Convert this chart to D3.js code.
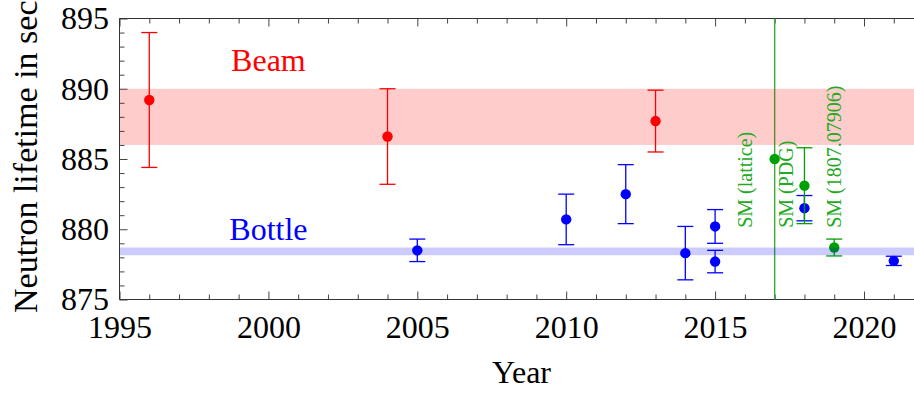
<!DOCTYPE html>
<html>
<head>
<meta charset="utf-8">
<script src="https://cdn.jsdelivr.net/npm/d3@7"></script>
<style>
  html, body { margin: 0; padding: 0; background: #fff; }
  svg { display: block; font-family: "Liberation Serif", "Times New Roman", serif; }
</style>
</head>
<body>
<svg id="chart" width="914" height="401"></svg>
<script>
// ---- data ----
const beamYears   = [1996, 2004, 2013];
const beamValues  = [889.2, 886.6, 887.7];
const beamErrors  = [4.8, 3.4, 2.2];

const bottleYears  = [2005, 2010, 2012, 2014, 2015, 2015, 2018, 2021];
const bottleValues = [878.5, 880.7, 882.5, 878.3, 880.2, 877.7, 881.5, 877.75];
const bottleErrors = [0.8, 1.8, 2.1, 1.9, 1.2, 0.8, 0.9, 0.33];

const smYears  = [2017, 2018, 2019];
const smValues = [885.0, 883.1, 878.7];
const smErrors = [0, 2.7, 0.6];
const smLabels = ["SM (lattice)", "SM (PDG)", "SM (1807.07906)"];

const beamBand   = [886, 890];
const bottleBand = [878.15, 878.7];

const yMajorTicks = [875, 880, 885, 890, 895];
const yMinorTicks = d3.range(875, 896, 1);
const xMajorTicks = [1995, 2000, 2005, 2010, 2015, 2020];
const xMinorTicks = d3.range(1995, 2023, 1);

const xTitle = "Year";
const yTitle = "Neutron lifetime in sec";
const pdgYear = 2017;

// ---- layout ----
const svg = d3.select("#chart");
const plotLeft = 119.5, plotTop = 18.5, plotBottom = 299.5;
const pxPerYear = 29.78;
const x = d3.scaleLinear().domain([1995, 2022]).range([plotLeft, plotLeft + 27 * pxPerYear]);
const y = d3.scaleLinear().domain([875, 895]).range([plotBottom, plotTop]);

const RED = "#ff0000", BLUE = "#0000ff", GREEN = "#00a000";
const FRAME = "#333";

// ---- axes / ticks ----
function styleAxis(g) {
  g.select(".domain").remove();
  g.selectAll(".tick line").attr("stroke", "#444").attr("stroke-width", 1);
  g.selectAll(".tick text").attr("fill", "#000").style("font-size", "32px")
    .style("font-family", '"Liberation Serif", serif');
}
// left minor + major
svg.append("g").attr("transform", `translate(${plotLeft},0)`)
  .call(d3.axisLeft(y).tickValues(yMinorTicks.filter(v => !yMajorTicks.includes(v))).tickSize(-5).tickFormat(""))
  .call(styleAxis);
svg.append("g").attr("transform", `translate(${plotLeft},0)`)
  .call(d3.axisLeft(y).tickValues(yMajorTicks).tickSize(-8).tickPadding(10.5).tickFormat(d3.format("d")))
  .call(styleAxis);
// bottom minor + major
svg.append("g").attr("transform", `translate(0,${plotBottom})`)
  .call(d3.axisBottom(x).tickValues(xMinorTicks.filter(v => !xMajorTicks.includes(v))).tickSize(-5).tickFormat(""))
  .call(styleAxis);
svg.append("g").attr("transform", `translate(0,${plotBottom})`)
  .call(d3.axisBottom(x).tickValues(xMajorTicks).tickSize(-8).tickPadding(15.5).tickFormat(d3.format("d")))
  .call(styleAxis);
// top minor + major
svg.append("g").attr("transform", `translate(0,${plotTop})`)
  .call(d3.axisTop(x).tickValues(xMinorTicks.filter(v => !xMajorTicks.includes(v))).tickSize(-5).tickFormat(""))
  .call(styleAxis);
svg.append("g").attr("transform", `translate(0,${plotTop})`)
  .call(d3.axisTop(x).tickValues(xMajorTicks).tickSize(-8).tickFormat(""))
  .call(styleAxis);

// frame (left, top, bottom; right side lies beyond the canvas)
const xr = x.range()[1];
svg.append("path")
  .attr("d", `M${xr},${plotTop}H${plotLeft}V${plotBottom}H${xr}`)
  .attr("fill", "none").attr("stroke", FRAME).attr("stroke-width", 1);

// ---- SM vertical line ----
svg.append("line")
  .attr("x1", x(pdgYear)).attr("x2", x(pdgYear))
  .attr("y1", y(895)).attr("y2", y(875))
  .attr("stroke", "#3aaa3a").attr("stroke-width", 1.4);

// ---- error bars + points ----
function drawSeries(years, values, errors, color) {
  const g = svg.append("g");
  years.forEach((yr, i) => {
    const v = values[i], e = errors[i];
    if (e > 0) {
      g.append("line").attr("x1", x(yr)).attr("x2", x(yr))
        .attr("y1", y(v - e)).attr("y2", y(v + e))
        .attr("stroke", color).attr("stroke-width", 1.3);
      [v - e, v + e].forEach(c => {
        g.append("line").attr("x1", x(yr) - 8).attr("x2", x(yr) + 8)
          .attr("y1", y(c)).attr("y2", y(c))
          .attr("stroke", color).attr("stroke-width", 1.3);
      });
    }
    g.append("circle").attr("cx", x(yr)).attr("cy", y(v)).attr("r", 5.2).attr("fill", color);
  });
}
drawSeries(beamYears, beamValues, beamErrors, RED);
drawSeries(bottleYears, bottleValues, bottleErrors, BLUE);
drawSeries(smYears, smValues, smErrors, GREEN);

// ---- bands (translucent, drawn over the marks) ----
svg.append("rect")
  .attr("x", plotLeft + 0.5).attr("width", xr - plotLeft)
  .attr("y", y(beamBand[1])).attr("height", y(beamBand[0]) - y(beamBand[1]))
  .attr("fill", RED).attr("fill-opacity", 0.2);
svg.append("rect")
  .attr("x", plotLeft + 0.5).attr("width", xr - plotLeft)
  .attr("y", y(bottleBand[1])).attr("height", y(bottleBand[0]) - y(bottleBand[1]))
  .attr("fill", BLUE).attr("fill-opacity", 0.2);

// ---- labels ----
svg.append("text").attr("x", x(2000)).attr("y", y(891.25))
  .attr("text-anchor", "middle").attr("fill", RED).style("font-size", "32px").text("Beam");
svg.append("text").attr("x", x(2000)).attr("y", y(879.2))
  .attr("text-anchor", "middle").attr("fill", BLUE).style("font-size", "32px").text("Bottle");

const smLabelYears = [2016.25, 2017.62, 2019.22];
smLabels.forEach((t, i) => {
  const lx = x(smLabelYears[i]), ly = y(880.1);
  svg.append("text")
    .attr("transform", `translate(${lx},${ly}) rotate(-90)`)
    .attr("fill", "#22aa22").style("font-size", "20px").text(t);
});

// axis titles
svg.append("text").attr("x", (plotLeft + xr) / 2).attr("y", 383)
  .attr("text-anchor", "middle").style("font-size", "32px").text(xTitle);
svg.append("text")
  .attr("transform", `translate(37,313) rotate(-90)`)
  .attr("text-anchor", "start").style("font-size", "34px").text(yTitle);
</script>
</body>
</html>
